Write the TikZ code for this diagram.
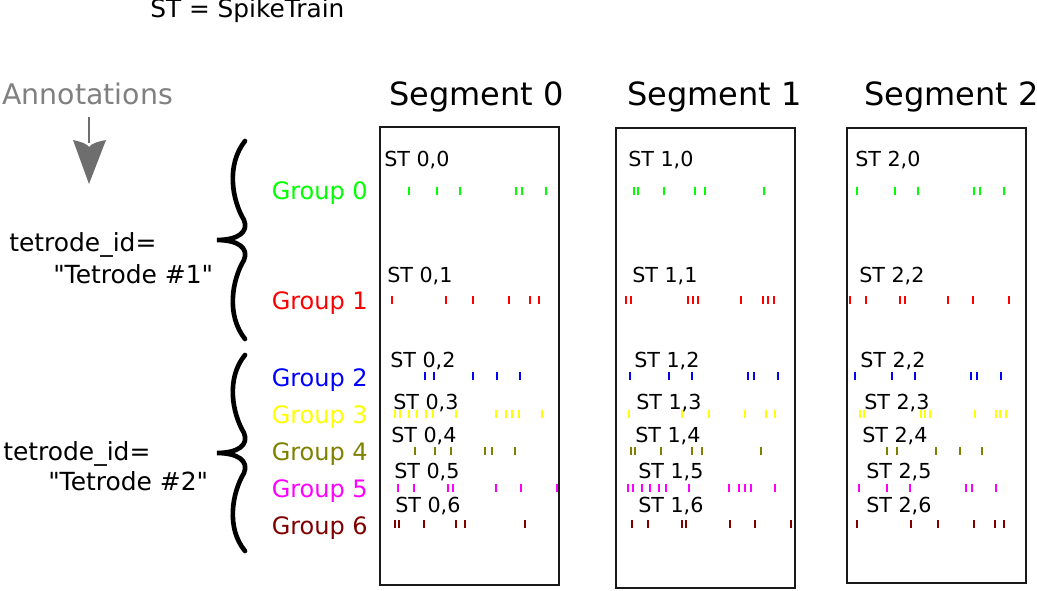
\documentclass[tikz,border=0pt]{standalone}
\usepackage{fontspec}
\setmainfont{DejaVu Sans}[Ligatures=TeXOff]
\definecolor{gA}{RGB}{0,255,0}
\definecolor{gB}{RGB}{255,0,0}
\definecolor{gC}{RGB}{0,0,255}
\definecolor{gD}{RGB}{255,255,0}
\definecolor{gE}{RGB}{128,128,0}
\definecolor{gF}{RGB}{255,0,255}
\definecolor{gG}{RGB}{128,0,0}
\definecolor{anngray}{RGB}{128,128,128}
\definecolor{arrgray}{RGB}{110,110,110}
\newcommand\spikes[3]{\foreach \sx in {#3} \draw[spike,#1] (\sx,#2-4) -- (\sx,#2+4);}
\begin{document}
\begin{tikzpicture}[x=0.75pt,y=-0.75pt,
  spike/.style={line width=1.4pt},
  segbox/.style={draw=black!90,line width=1.1pt},
  segtitle/.style={anchor=base west,inner sep=0pt,font=\fontsize{24}{28}\selectfont},
  stlabel/.style={anchor=base west,inner sep=0pt,font=\fontsize{15.5}{18}\selectfont},
  grouplabel/.style={anchor=base east,inner sep=0pt,font=\fontsize{18}{21}\selectfont},
  tetlabel/.style={anchor=base west,inner sep=0pt,font=\fontsize{18.7}{22}\selectfont},
  brace/.style={line width=3.5pt,line cap=round}]
\useasboundingbox (0,0) rectangle (1037,591);

% header
\node[anchor=base west,inner sep=0pt,font=\fontsize{18.6}{22}\selectfont] (legend) at (150,18) {ST = SpikeTrain};
\node[anchor=base west,inner sep=0pt,font=\fontsize{21.3}{25}\selectfont,text=anngray] (annot) at (2,105) {Annotations};
\coordinate (arrtop) at (89,117);
\coordinate (arrneck) at (89,143);
\draw[arrgray,line width=2.2pt] (arrtop) -- (arrneck);
\fill[arrgray] (89,184) -- (73,140) .. controls (82,142) and (87,144) .. (89,147) .. controls (91,144) and (96,142) .. (106,140) -- cycle;

% braces
\draw[brace] (245,141) .. controls (226,165) and (232,200) .. (244,220) .. controls (249,232) and (238,240) .. (217,240)
  .. controls (238,240) and (249,248) .. (244,260) .. controls (232,280) and (226,315) .. (245,339);
\begin{scope}[yshift=-213*0.75pt]
\draw[brace] (245,142) .. controls (226,165) and (232,200) .. (244,220) .. controls (249,232) and (238,240) .. (217,240)
  .. controls (238,240) and (249,248) .. (244,260) .. controls (232,280) and (226,315) .. (245,338);
\end{scope}

\node[tetlabel] (tet1a) at (9,252) {tetrode\_id=};
\node[tetlabel] (tet1b) at (53,283) {"Tetrode \#1"};
\node[tetlabel] (tet2a) at (3,460) {tetrode\_id=};
\node[tetlabel] (tet2b) at (48,490) {"Tetrode \#2"};

% group labels
\node[grouplabel,text=gA] (g0) at (368,200) {Group 0};
\node[grouplabel,text=gB] (g1) at (368,310) {Group 1};
\node[grouplabel,text=gC] (g2) at (368,386) {Group 2};
\node[grouplabel,text=gD] (g3) at (368,423) {Group 3};
\node[grouplabel,text=gE] (g4) at (368,460) {Group 4};
\node[grouplabel,text=gF] (g5) at (368,497) {Group 5};
\node[grouplabel,text=gG] (g6) at (368,534) {Group 6};

% segment titles and boxes
\node[segtitle] (s0) at (389,106) {Segment 0};
\node[segtitle] (s1) at (627,106) {Segment 1};
\node[segtitle] (s2) at (864,106) {Segment 2};
\draw[segbox] (380,127) rectangle (559,585);
\draw[segbox] (616,128) rectangle (795,588);
\draw[segbox] (847,128) rectangle (1026,583);

% segment 0
\node[stlabel] (st00) at (384,167) {ST 0,0};
\node[stlabel] (st01) at (387,282) {ST 0,1};
\node[stlabel] (st02) at (390,367) {ST 0,2};
\node[stlabel] (st03) at (393,409) {ST 0,3};
\node[stlabel] (st04) at (391,442) {ST 0,4};
\node[stlabel] (st05) at (394,478) {ST 0,5};
\node[stlabel] (st06) at (395,512) {ST 0,6};
\spikes{gA}{191}{408.7,437,460,515.7,522.3,545.7}
\spikes{gB}{300}{392,445.7,473,508.7,529.7,538.7}
\spikes{gC}{376}{424.7,434,473,497.3,519.7}
\spikes{gD}{414}{395.3,399.7,408.7,417.3,426.3,433,456.3,496.3,506.3,512,518.7,542}
\spikes{gE}{451}{415.3,434.7,450.7,485.3,492,514.7}
\spikes{gF}{488}{398,414,448,453,496.3,520.7,557.3}
\spikes{gG}{524}{394.7,398.7,424,455.7,465.3,524.7}

% segment 1
\node[stlabel] (st10) at (628,167) {ST 1,0};
\node[stlabel] (st11) at (632,282) {ST 1,1};
\node[stlabel] (st12) at (634,367) {ST 1,2};
\node[stlabel] (st13) at (636,409) {ST 1,3};
\node[stlabel] (st14) at (635,442) {ST 1,4};
\node[stlabel] (st15) at (638,478) {ST 1,5};
\node[stlabel] (st16) at (638,512) {ST 1,6};
\spikes{gA}{191}{633.7,637.7,663.7,694.7,704.7,763.7}
\spikes{gB}{300}{626.3,631,688,692.7,697.7,741.3,762.7,767.7,773.7}
\spikes{gC}{376}{630.3,669.3,692,747.7,753.7,777.7}
\spikes{gD}{414}{628.7,682,708.7,745.3,766,775.3}
\spikes{gE}{451}{631,634.7,661,692,702,761}
\spikes{gF}{488}{628,632.7,642,650.3,658.7,666,689.3,729.3,738.7,745.3,751.3,774.7}
\spikes{gG}{524}{632,648,682,686,729.7,754.7,791}

% segment 2
\node[stlabel] (st20) at (855,167) {ST 2,0};
\node[stlabel] (st21) at (859,282) {ST 2,2};
\node[stlabel] (st22) at (860,367) {ST 2,2};
\node[stlabel] (st23) at (864,409) {ST 2,3};
\node[stlabel] (st24) at (862,442) {ST 2,4};
\node[stlabel] (st25) at (866,478) {ST 2,5};
\node[stlabel] (st26) at (866,512) {ST 2,6};
\spikes{gA}{191}{857.3,895.3,918,974,980.3,1004}
\spikes{gB}{300}{850.3,866.3,900.3,904.7,948,973,1009}
\spikes{gC}{376}{854.7,892.3,915,971.3,977.3,1000.7}
\spikes{gD}{414}{859.7,863.7,920.7,924.7,929.7,974.7,995.7,999.7,1006.3}
\spikes{gE}{451}{887,897,935.7,960.3,982.3}
\spikes{gF}{488}{859,887.3,910.3,966.3,972.3,995.7}
\spikes{gG}{524}{857.3,911.3,938,974,994.7,1004}
\end{tikzpicture}
\end{document}
